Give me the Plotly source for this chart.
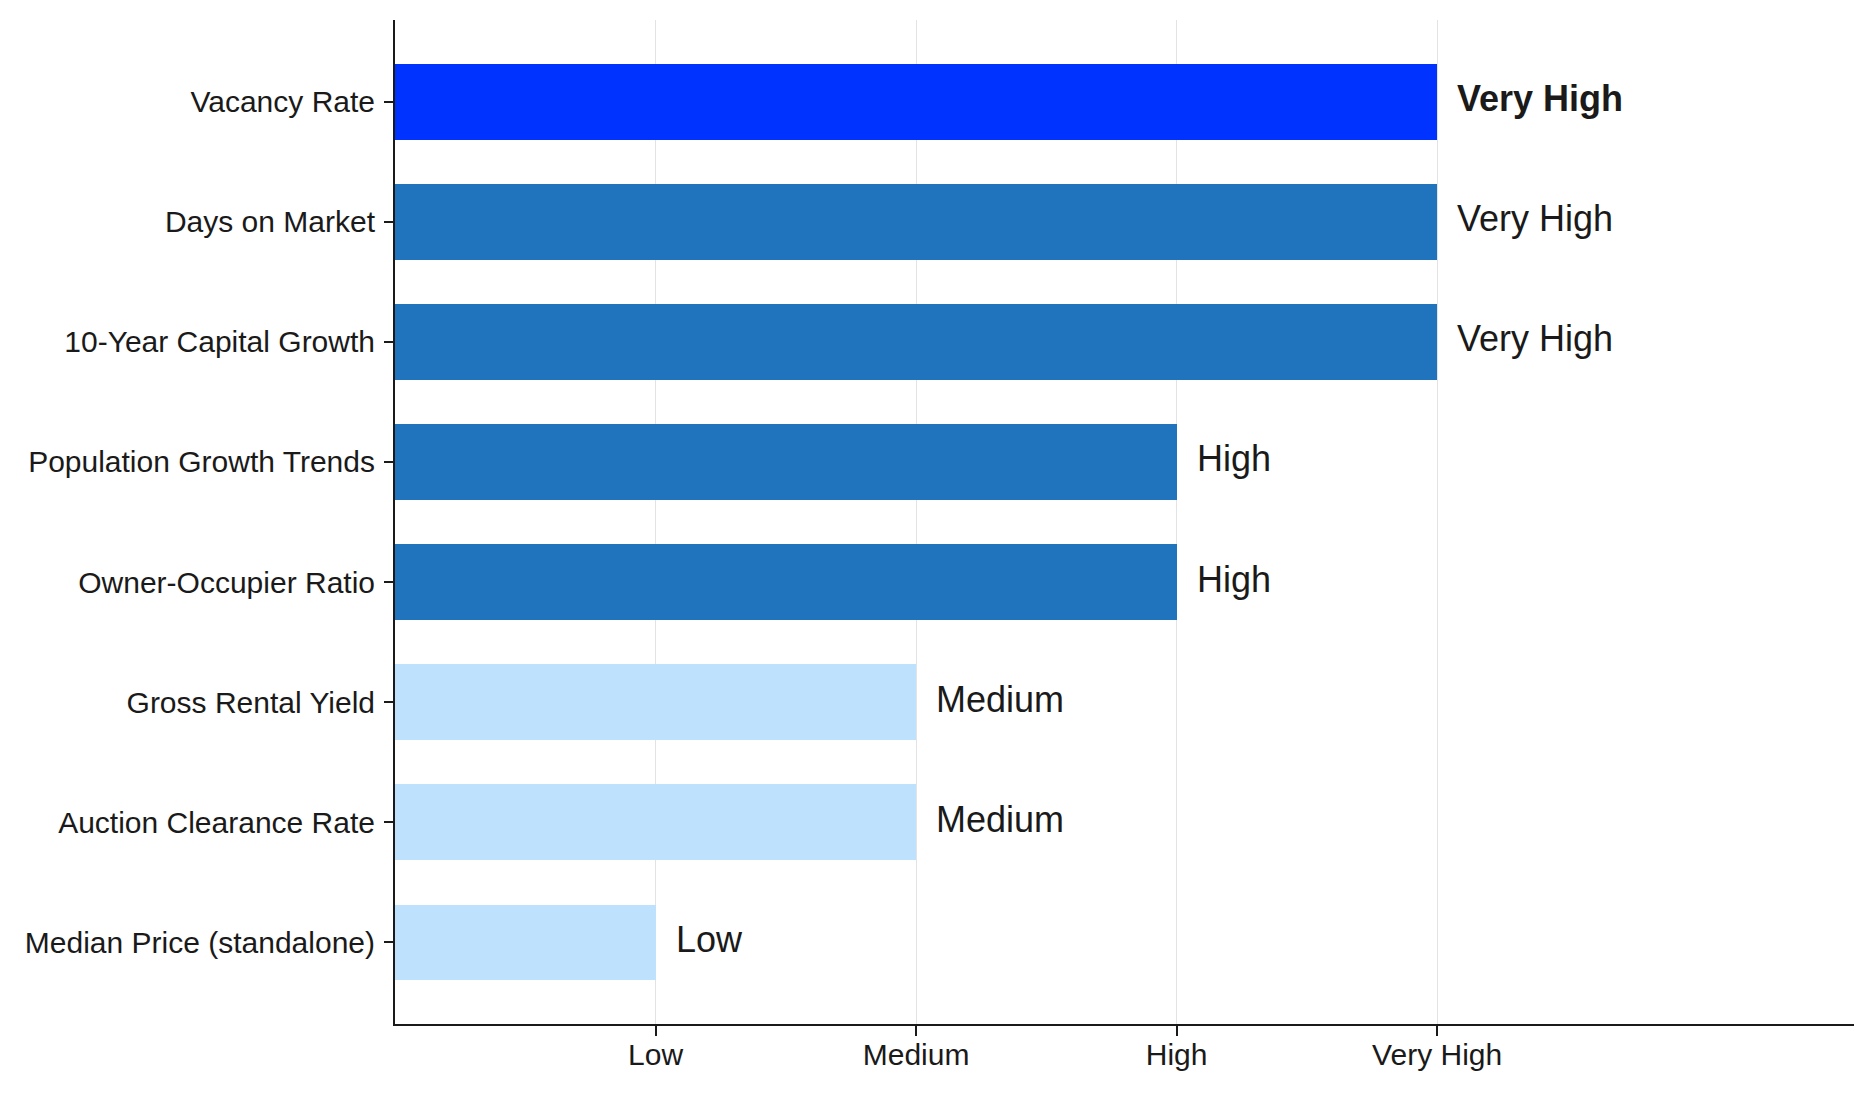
import plotly.graph_objects as go

categories = [
    "Vacancy Rate",
    "Days on Market",
    "10-Year Capital Growth",
    "Population Growth Trends",
    "Owner-Occupier Ratio",
    "Gross Rental Yield",
    "Auction Clearance Rate",
    "Median Price (standalone)",
]
levels = [4, 4, 4, 3, 3, 2, 2, 1]
level_names = ["Low", "Medium", "High", "Very High"]
level_values = [1, 2, 3, 4]
label_text = [level_names[v - 1] for v in levels]

color_highlight = "#0033ff"
color_strong = "#1f74bd"
color_light = "#bee2fe"
colors = [color_highlight if i == 0 else (color_strong if v >= 3 else color_light)
          for i, v in enumerate(levels)]

FONT = "Liberation Sans, Arial, sans-serif"

fig = go.Figure()
fig.add_trace(go.Bar(
    x=levels, y=categories, orientation="h",
    marker=dict(color=colors, line=dict(width=0)),
    width=0.63, hoverinfo="skip",
))

for i, (cat, v, t) in enumerate(zip(categories, levels, label_text)):
    fig.add_annotation(
        x=v, y=cat, text=f"<b>{t}</b>" if i == 0 else t,
        showarrow=False, xanchor="left", yanchor="middle",
        xshift=18, yshift=3,
        font=dict(size=36, color="#1a1a1a", family=FONT),
    )

fig.update_layout(
    width=1873, height=1093,
    margin=dict(l=395, r=19, t=20, b=69),
    paper_bgcolor="white", plot_bgcolor="white",
    showlegend=False,
    font=dict(family=FONT, color="#1a1a1a"),
    bargap=0,
)
fig.update_xaxes(
    range=[0, 5.6], tickmode="array", tickvals=level_values, ticktext=level_names,
    showgrid=True, gridcolor="#e3e3e3", gridwidth=1,
    showline=True, linecolor="#1a1a1a", linewidth=2,
    ticks="outside", ticklen=10, tickwidth=1.5, tickcolor="#1a1a1a",
    tickfont=dict(size=30), zeroline=False, fixedrange=True, ticklabelstandoff=-7,
)
fig.update_yaxes(
    autorange=False, range=[7.68, -0.68], categoryorder="array", categoryarray=categories,
    showgrid=False, showline=True, linecolor="#1a1a1a", linewidth=2,
    ticks="outside", ticklen=9, tickwidth=1.5, tickcolor="#1a1a1a",
    tickfont=dict(size=30), zeroline=False, ticklabelstandoff=3,
)

fig.write_html("out.html")
